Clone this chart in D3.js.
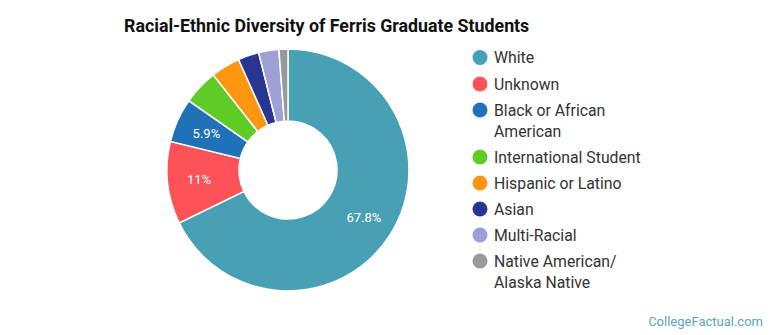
<!DOCTYPE html>
<html>
<head>
<meta charset="utf-8">
<script src="https://cdn.jsdelivr.net/npm/d3@7"></script>
<style>
  body { margin: 0; background: #fff; }
  svg text { font-family: Roboto, "Open Sans", sans-serif; }
</style>
</head>
<body>
<div id="chart"></div>
<script>
// data (percent of graduate students)
let categories = ["White", "Unknown", "Black or African American", "International Student",
    "Hispanic or Latino", "Asian", "Multi-Racial", "Native American/ Alaska Native"]
let legendLines = [["White"], ["Unknown"], ["Black or African", "American"], ["International Student"],
    ["Hispanic or Latino"], ["Asian"], ["Multi-Racial"], ["Native American/", "Alaska Native"]]
let values = [67.8, 11, 5.9, 4.7, 3.9, 2.8, 2.7, 1.2]
let valueLabels = ["67.8%", "11%", "5.9%", "", "", "", "", ""]
let colors = ["#48a0b4", "#fd5257", "#1f72b8", "#5fcb26", "#fe9611", "#283593", "#9e9fd5", "#999999"]

var width = 770, height = 335

var svg = d3.select("#chart")
    .append("svg")
    .attr("width", width)
    .attr("height", height)

// title
svg.append("text")
    .attr("x", 124)
    .attr("y", 32)
    .text("Racial-Ethnic Diversity of Ferris Graduate Students")
    .style("font-size", "17.8px")
    .style("font-weight", "bold")
    .style("fill", "#111")

var color = d3.scaleOrdinal()
    .domain(categories)
    .range(colors)

var pie = d3.pie()
    .sort(null)
    .value(function (d) { return d.value })

var pieData = pie(categories.map(function (c, i) {
    return {name: c, value: values[i], label: valueLabels[i]}
}))

var outerR = 121, innerR = 49
var arc = d3.arc().innerRadius(innerR).outerRadius(outerR)
var labelArc = d3.arc().innerRadius(outerR * 0.74).outerRadius(outerR * 0.74)

var g = svg.append("g")
    .attr("transform", "translate(288,170)")

g.selectAll("path")
    .data(pieData)
    .enter()
    .append("path")
    .attr("d", arc)
    .style("fill", function (d) { return color(d.data.name) })
    .style("stroke", "#fff")
    .style("stroke-width", 1.5)

g.selectAll("text")
    .data(pieData)
    .enter()
    .append("text")
    .attr("transform", function (d) { return "translate(" + labelArc.centroid(d) + ")" })
    .attr("text-anchor", "middle")
    .attr("dy", "0.35em")
    .text(function (d) { return d.data.label })
    .style("fill", "#fff")
    .style("font-size", "13px")

// legend
var legendY = [57.5, 84, 110, 157, 183, 209, 235, 261]
var legend = svg.append("g")
legendLines.forEach(function (lines, i) {
    legend.append("circle")
        .attr("cx", 480)
        .attr("cy", legendY[i])
        .attr("r", 7.5)
        .style("fill", colors[i])
    lines.forEach(function (line, j) {
        legend.append("text")
            .attr("x", 494)
            .attr("y", legendY[i] + j * 21)
            .attr("dy", "0.35em")
            .text(line)
            .style("font-size", "15.8px")
            .style("fill", "#333")
    })
})

// watermark
svg.append("text")
    .attr("x", 763)
    .attr("y", 326)
    .attr("text-anchor", "end")
    .text("CollegeFactual.com")
    .style("font-size", "13px")
    .style("fill", "#5ba6b8")
</script>
</body>
</html>
